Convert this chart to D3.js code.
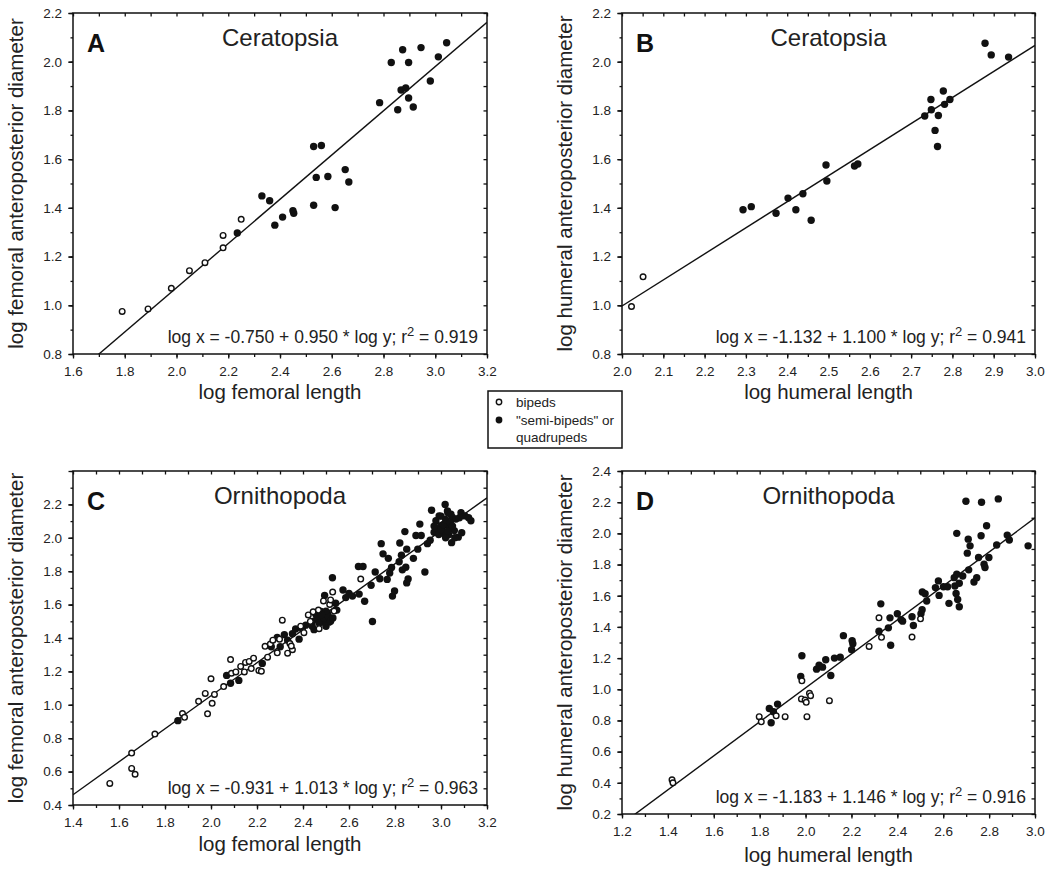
<!DOCTYPE html>
<html><head><meta charset="utf-8">
<script src="https://cdn.jsdelivr.net/npm/d3@7"></script>
<style>body{margin:0;background:#fff}</style>
</head><body>
<svg id="c" width="1050" height="871"></svg>
<script>
// ---------------- DATA ----------------
// Panel A: Ceratopsia, log femoral length vs log femoral AP diameter
const aBipeds = [[1.79,0.975],[1.89,0.985],[1.98,1.07],[2.05,1.142],[2.11,1.175],[2.18,1.236],[2.18,1.287],[2.25,1.353]];
const aQuad = [[2.235,1.297],[2.33,1.449],[2.36,1.429],[2.38,1.329],[2.41,1.362],[2.45,1.388],[2.453,1.378],[2.53,1.411],
  [2.53,1.652],[2.56,1.656],[2.54,1.525],[2.585,1.529],[2.613,1.401],[2.652,1.557],[2.666,1.506],[2.785,1.832],[2.83,1.997],
  [2.855,1.803],[2.868,1.884],[2.886,1.892],[2.874,2.049],[2.897,1.997],[2.897,1.851],[2.915,1.814],[2.945,2.058],[2.981,1.921],
  [3.012,2.02],[3.044,2.078]];
const aFit = [-0.744, 0.908];
const aEquation = ["log x = -0.750 + 0.950 * log y; r", "2", " = 0.919"];
const aXTicks = [1.6,1.8,2.0,2.2,2.4,2.6,2.8,3.0,3.2];
const aYTicks = [0.8,1.0,1.2,1.4,1.6,1.8,2.0,2.2];

// Panel B: Ceratopsia, log humeral length vs log humeral AP diameter
const bBipeds = [[2.023,0.995],[2.051,1.117]];
const bQuad = [[2.293,1.392],[2.313,1.405],[2.373,1.378],[2.402,1.44],[2.421,1.392],[2.438,1.458],[2.458,1.349],[2.494,1.576],
  [2.496,1.51],[2.563,1.572],[2.571,1.58],[2.733,1.777],[2.748,1.845],[2.749,1.803],[2.758,1.718],[2.766,1.779],[2.764,1.652],
  [2.778,1.88],[2.781,1.825],[2.794,1.845],[2.879,2.076],[2.894,2.028],[2.936,2.019]];
const bFit = [-1.143, 1.070];
const bEquation = ["log x = -1.132 + 1.100 * log y; r", "2", " = 0.941"];
const bXTicks = [2.0,2.1,2.2,2.3,2.4,2.5,2.6,2.7,2.8,2.9,3.0];
const bYTicks = [0.8,1.0,1.2,1.4,1.6,1.8,2.0,2.2];

// Panel C: Ornithopoda, femur
const cBipeds = [[1.56,0.529],[1.655,0.711],[1.655,0.619],[1.67,0.584],[1.756,0.825],[1.876,0.948],[1.885,0.925],[1.946,1.021],
  [1.985,0.946],[1.975,1.068],[2.0,1.156],[2.005,1.009],[2.015,1.062],[2.055,1.109],[2.085,1.271],[2.089,1.189],[2.108,1.197],
  [2.129,1.23],[2.145,1.197],[2.15,1.254],[2.166,1.26],[2.175,1.217],[2.185,1.279],[2.208,1.205],[2.219,1.201],[2.235,1.35],
  [2.246,1.285],[2.258,1.364],[2.269,1.387],[2.288,1.311],[2.298,1.393],[2.31,1.507],[2.333,1.309],[2.343,1.367],[2.354,1.33],
  [2.349,1.352],[2.39,1.471],[2.404,1.432],[2.423,1.538],[2.444,1.557],[2.432,1.499],[2.467,1.567],[2.47,1.456],[2.489,1.622],
  [2.516,1.601],[2.52,1.628],[2.529,1.675],[2.535,1.561],[2.651,1.753]];
const cQuad = [[1.856,0.905],[2.068,1.176],[2.085,1.129],[2.121,1.146],[2.223,1.248],[2.262,1.348],[2.288,1.403],[2.301,1.348],
  [2.319,1.42],[2.333,1.387],[2.354,1.426],[2.368,1.454],[2.383,1.393],[2.397,1.456],[2.412,1.477],[2.441,1.499],[2.448,1.45],
  [2.455,1.544],[2.47,1.514],[2.478,1.559],[2.484,1.495],[2.491,1.534],[2.499,1.509],[2.506,1.55],[2.513,1.495],[2.494,1.655],
  [2.542,1.608],[2.528,1.761],[2.547,1.567],[2.574,1.687],[2.586,1.642],[2.6,1.667],[2.615,1.651],[2.644,1.663],[2.641,1.828],
  [2.661,1.828],[2.668,1.62],[2.696,1.716],[2.702,1.499],[2.714,1.795],[2.734,1.755],[2.74,1.965],[2.748,1.904],[2.766,1.751],
  [2.771,1.877],[2.777,1.789],[2.785,1.822],[2.789,1.651],[2.798,1.681],[2.818,1.857],[2.821,1.969],[2.828,1.896],[2.832,1.808],
  [2.843,2.037],[2.847,1.824],[2.851,1.73],[2.857,1.753],[2.851,1.932],[2.88,1.877],[2.891,2.014],[2.899,1.932],[2.908,2.082],
  [2.914,2.014],[2.93,1.795],[2.941,1.965],[2.953,1.985],[2.959,2.165],[2.97,2.033],[2.978,2.102],[2.985,2.053],[2.992,2.131],
  [2.999,2.073],[3.007,2.043],[3.014,2.024],[3.018,2.2],[3.021,2.082],[3.028,2.161],[3.033,2.018],[3.036,2.053],[3.043,2.141],
  [3.047,2.063],[3.05,2.122],[3.058,2.043],[3.065,2.112],[3.046,1.971],[3.075,2.004],[3.087,2.151],[3.104,2.131],[3.13,2.102],
  [2.46,1.52],[2.47,1.49],[2.49,1.52],[2.5,1.47],[2.51,1.53],[2.52,1.5],[2.53,1.52],[2.5,1.56],[2.48,1.54],[2.44,1.47],
  [2.99,2.02],[3.0,2.05],[3.01,2.08],[3.02,2.11],[3.03,2.04],[3.04,2.09],[3.02,2.0],[3.03,2.15],[3.05,2.07],[3.06,2.0],
  [3.0,2.13],[2.97,2.07],[3.08,2.12],[3.12,2.12],[3.09,2.03]];
const cFit = [-0.922, 0.988];
const cEquation = ["log x = -0.931 + 1.013 * log y; r", "2", " = 0.963"];
const cXTicks = [1.4,1.6,1.8,2.0,2.2,2.4,2.6,2.8,3.0,3.2];
const cYTicks = [0.4,0.6,0.8,1.0,1.2,1.4,1.6,1.8,2.0,2.2];

// Panel D: Ornithopoda, humerus
const dBipeds = [[1.418,0.419],[1.422,0.4],[1.798,0.824],[1.807,0.791],[1.872,0.83],[1.911,0.824],[1.984,1.054],[1.982,0.938],
  [1.998,0.931],[2.006,0.824],[2.017,0.974],[2.022,0.959],[2.003,0.916],[2.104,0.927],[2.277,1.275],[2.32,1.458],[2.331,1.333],
  [2.464,1.335],[2.501,1.452]];
const dQuad = [[1.842,0.877],[1.85,0.785],[1.86,0.856],[1.878,0.905],[1.984,1.215],[1.979,1.082],[2.048,1.129],[2.059,1.155],
  [2.074,1.142],[2.088,1.189],[2.11,1.088],[2.126,1.2],[2.151,1.206],[2.165,1.344],[2.203,1.312],[2.206,1.292],[2.201,1.254],
  [2.32,1.372],[2.328,1.548],[2.361,1.394],[2.368,1.458],[2.371,1.282],[2.4,1.484],[2.416,1.447],[2.423,1.437],[2.464,1.465],
  [2.47,1.409],[2.503,1.484],[2.508,1.51],[2.509,1.624],[2.521,1.613],[2.528,1.566],[2.566,1.652],[2.579,1.695],[2.582,1.602],
  [2.601,1.658],[2.619,1.658],[2.625,1.551],[2.648,1.716],[2.651,1.662],[2.659,1.738],[2.656,1.615],[2.663,1.576],[2.67,1.529],
  [2.67,1.68],[2.685,1.727],[2.659,2.0],[2.705,1.873],[2.709,1.963],[2.717,1.92],[2.711,1.766],[2.699,2.206],[2.734,1.688],
  [2.746,1.716],[2.754,1.845],[2.765,1.985],[2.767,2.2],[2.778,1.802],[2.782,1.781],[2.789,2.049],[2.799,1.845],[2.833,1.925],
  [2.84,2.221],[2.879,1.989],[2.888,1.957],[2.97,1.92]];
const dFit = [-1.171, 1.090];
const dEquation = ["log x = -1.183 + 1.146 * log y; r", "2", " = 0.916"];
const dXTicks = [1.2,1.4,1.6,1.8,2.0,2.2,2.4,2.6,2.8,3.0];
const dYTicks = [0.2,0.4,0.6,0.8,1.0,1.2,1.4,1.6,1.8,2.0,2.2,2.4];

const legendLabels = [["bipeds"], ["\"semi-bipeds\" or", "quadrupeds"]];

// ---------------- LAYOUT ----------------
const FONT = '"Liberation Sans", Arial, Helvetica, sans-serif';
const panels = [
  {letter:"A", title:"Ceratopsia", xLabel:"log femoral length", yLabel:"log femoral anteroposterior diameter",
   open:aBipeds, filled:aQuad, fit:aFit, eq:aEquation, xTicks:aXTicks, yTicks:aYTicks,
   xDomain:[1.6,3.2], yDomain:[0.8,2.2], xMinor:0.1, yMinor:0.1, box:{l:73,r:487,t:13,b:354}, titleGap:45},
  {letter:"B", title:"Ceratopsia", xLabel:"log humeral length", yLabel:"log humeral anteroposterior diameter",
   open:bBipeds, filled:bQuad, fit:bFit, eq:bEquation, xTicks:bXTicks, yTicks:bYTicks,
   xDomain:[2.0,3.0], yDomain:[0.8,2.2], xMinor:0.05, yMinor:0.1, box:{l:622,r:1035,t:13,b:354}, titleGap:45},
  {letter:"C", title:"Ornithopoda", xLabel:"log femoral length", yLabel:"log femoral anteroposterior diameter",
   open:cBipeds, filled:cQuad, fit:cFit, eq:cEquation, xTicks:cXTicks, yTicks:cYTicks,
   xDomain:[1.4,3.2], yDomain:[0.4,2.4], xMinor:0.1, yMinor:0.1, box:{l:73,r:487,t:471,b:805}, titleGap:46},
  {letter:"D", title:"Ornithopoda", xLabel:"log humeral length", yLabel:"log humeral anteroposterior diameter",
   open:dBipeds, filled:dQuad, fit:dFit, eq:dEquation, xTicks:dXTicks, yTicks:dYTicks,
   xDomain:[1.2,3.0], yDomain:[0.2,2.4], xMinor:0.1, yMinor:0.1, box:{l:622,r:1035,t:471,b:814}, titleGap:48}
];

const svg = d3.select("#c").style("font-family", FONT);
const fmt = d3.format(".1f");

function styleAxis(g) {
  g.select(".domain").remove();
  g.selectAll(".tick line").attr("stroke", "#111").attr("stroke-width", 1.3);
  g.selectAll(".tick text").attr("fill", "#222").style("font-size", "13.5px").style("font-family", FONT);
}

panels.forEach((p, i) => {
  const b = p.box;
  const x = d3.scaleLinear().domain(p.xDomain).range([b.l, b.r]);
  const y = d3.scaleLinear().domain(p.yDomain).range([b.b, b.t]);
  const g = svg.append("g");
  const xMin = d3.range(p.xDomain[0], p.xDomain[1] + 1e-9, p.xMinor).map(v => +v.toFixed(3));
  const yMin = d3.range(p.yDomain[0], p.yDomain[1] + 1e-9, p.yMinor).map(v => +v.toFixed(3));
  const yMajor = d3.range(p.yDomain[0], p.yDomain[1] + 1e-9, 0.2).map(v => +v.toFixed(3));

  // bottom
  g.append("g").attr("transform", `translate(0,${b.b})`)
    .call(d3.axisBottom(x).tickValues(xMin).tickSize(3).tickFormat("")).call(styleAxis);
  g.append("g").attr("transform", `translate(0,${b.b})`)
    .call(d3.axisBottom(x).tickValues(p.xTicks).tickSize(4.5).tickPadding(8).tickFormat(fmt)).call(styleAxis);
  // top (inward)
  g.append("g").attr("transform", `translate(0,${b.t})`)
    .call(d3.axisTop(x).tickValues(xMin).tickSize(-3.5).tickFormat("")).call(styleAxis);
  // left
  g.append("g").attr("transform", `translate(${b.l},0)`)
    .call(d3.axisLeft(y).tickValues(yMin).tickSize(2.5).tickFormat("")).call(styleAxis);
  g.append("g").attr("transform", `translate(${b.l},0)`)
    .call(d3.axisLeft(y).tickValues(yMajor).tickSize(4.5).tickFormat("")).call(styleAxis);
  g.append("g").attr("transform", `translate(${b.l},0)`)
    .call(d3.axisLeft(y).tickValues(p.yTicks).tickSize(4.5).tickPadding(6.5).tickFormat(fmt)).call(styleAxis);
  // right (inward)
  g.append("g").attr("transform", `translate(${b.r},0)`)
    .call(d3.axisRight(y).tickValues(yMin).tickSize(-3.5).tickFormat("")).call(styleAxis);

  // frame
  g.append("rect").attr("x", b.l).attr("y", b.t).attr("width", b.r - b.l).attr("height", b.b - b.t)
    .attr("fill", "none").attr("stroke", "#111").attr("stroke-width", 1.5);

  // clip
  const cid = "clip" + i;
  svg.append("clipPath").attr("id", cid).append("rect")
    .attr("x", b.l).attr("y", b.t).attr("width", b.r - b.l).attr("height", b.b - b.t);

  // regression line
  const line = d3.line().x(d => x(d)).y(d => y(p.fit[0] + p.fit[1] * d));
  g.append("path").datum(p.xDomain).attr("d", line).attr("clip-path", `url(#${cid})`)
    .attr("fill", "none").attr("stroke", "#111").attr("stroke-width", 1.4);

  // points
  g.append("g").selectAll("circle").data(p.filled).join("circle")
    .attr("cx", d => x(d[0])).attr("cy", d => y(d[1])).attr("r", 3.7).attr("fill", "#111");
  g.append("g").selectAll("circle").data(p.open).join("circle")
    .attr("cx", d => x(d[0])).attr("cy", d => y(d[1])).attr("r", 2.8)
    .attr("fill", "#fff").attr("stroke", "#111").attr("stroke-width", 1.4);

  // letter and title
  g.append("text").attr("x", b.l + 14).attr("y", b.t + 39).text(p.letter)
    .style("font-size", "25px").style("font-weight", "bold").attr("fill", "#111");
  g.append("text").attr("x", (b.l + b.r) / 2).attr("y", b.t + 33).attr("text-anchor", "middle")
    .text(p.title).style("font-size", "24px").attr("fill", "#222");

  // equation
  const eq = g.append("text").attr("x", b.r - 9).attr("y", b.b - 11).attr("text-anchor", "end")
    .style("font-size", "17.5px").attr("fill", "#222");
  eq.append("tspan").text(p.eq[0]);
  eq.append("tspan").text(p.eq[1]).attr("dy", -7).style("font-size", "13px");
  eq.append("tspan").text(p.eq[2]).attr("dy", 7);

  // axis titles
  g.append("text").attr("x", (b.l + b.r) / 2).attr("y", b.b + p.titleGap).attr("text-anchor", "middle")
    .text(p.xLabel).style("font-size", "20.5px").attr("fill", "#222");
  g.append("text").attr("transform", `translate(${b.l - 50},${(b.t + b.b) / 2}) rotate(-90)`)
    .attr("text-anchor", "middle").text(p.yLabel).style("font-size", "20.5px").attr("fill", "#222");
});

// legend
const lg = svg.append("g");
lg.append("rect").attr("x", 488).attr("y", 391).attr("width", 134).attr("height", 57)
  .attr("fill", "#fff").attr("stroke", "#111").attr("stroke-width", 1.5);
lg.append("circle").attr("cx", 499).attr("cy", 402).attr("r", 2.7).attr("fill", "#fff").attr("stroke", "#111").attr("stroke-width", 1.4);
lg.append("circle").attr("cx", 499).attr("cy", 420).attr("r", 3.4).attr("fill", "#111");
const rows = [[legendLabels[0][0], 407], [legendLabels[1][0], 425], [legendLabels[1][1], 442]];
lg.selectAll("text").data(rows).join("text").attr("x", 516).attr("y", d => d[1]).text(d => d[0])
  .style("font-size", "13.5px").attr("fill", "#222");
</script>
</body></html>
